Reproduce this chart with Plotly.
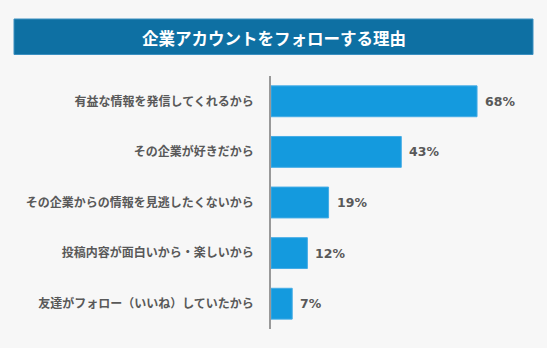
import plotly.graph_objects as go

categories = [
    "有益な情報を発信してくれるから",
    "その企業が好きだから",
    "その企業からの情報を見逃したくないから",
    "投稿内容が面白いから・楽しいから",
    "友達がフォロー（いいね）していたから",
]
values = [68, 43, 19, 12, 7]
value_labels = ["68%", "43%", "19%", "12%", "7%"]
title_text = "企業アカウントをフォローする理由"

W, H = 550, 350
L, R, T, B = 271, 6, 76, 21
pw = W - L - R
ph = H - T - B

def px_x(x):
    return (x - L) / pw

def px_y(y):
    return (H - B - y) / ph

FONT = "Noto Sans CJK JP"

fig = go.Figure()
fig.add_trace(go.Bar(
    x=values, y=categories, orientation="h",
    marker=dict(color="#149ade", line=dict(color="#45ace6", width=1)),
    width=0.61, hoverinfo="skip",
))

annotations = []
for v, c, t in zip(values, categories, value_labels):
    annotations.append(dict(x=v, y=c, text=t, showarrow=False, xanchor="left",
                            xshift=6, font=dict(family="DejaVu Sans", size=12.5, color="#595959", weight="bold")))
annotations.append(dict(xref="paper", yref="paper", x=px_x(274), y=px_y(37.5),
                        text=title_text, showarrow=False, xanchor="center", yanchor="middle",
                        font=dict(family=FONT, size=16.5, color="white", weight="bold")))

shapes = [
    dict(type="rect", xref="paper", yref="paper", x0=px_x(0), x1=px_x(547), y0=px_y(0), y1=px_y(348),
         fillcolor="#f7f7f7", line=dict(width=0), layer="below"),
    dict(type="rect", xref="paper", yref="paper", x0=px_x(14), x1=px_x(533), y0=px_y(19), y1=px_y(54.5),
         fillcolor="#0e70a3", line=dict(color="#3b8fc0", width=1), layer="below"),
]

fig.update_layout(
    width=W, height=H,
    margin=dict(l=L, r=R, t=T, b=B, pad=0),
    paper_bgcolor="white", plot_bgcolor="rgba(0,0,0,0)",
    showlegend=False,
    xaxis=dict(range=[0, pw / 3.03], visible=False, fixedrange=True),
    yaxis=dict(autorange="reversed", showline=True, linecolor="#999999", linewidth=1.5,
               showgrid=False, ticks="", ticklabelstandoff=13,
               tickfont=dict(family=FONT, size=12, color="#595959", weight="bold"),
               fixedrange=True),
    bargap=0.39,
    annotations=annotations,
    shapes=shapes,
)

fig.write_html("out.html", config=dict(displayModeBar=False))
